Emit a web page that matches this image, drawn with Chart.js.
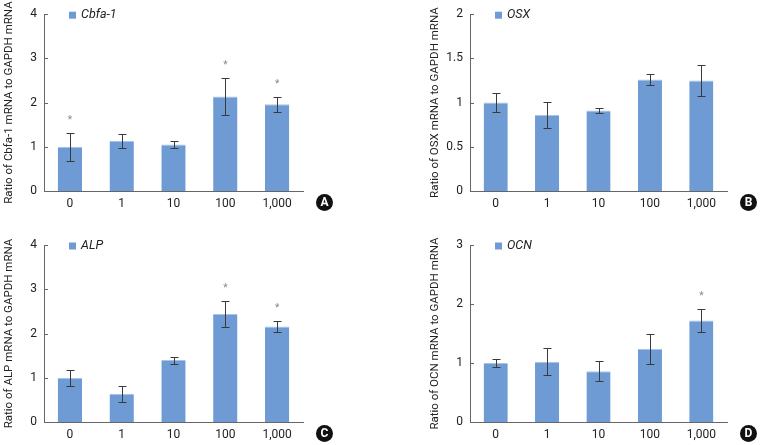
<!DOCTYPE html>
<html lang="en">
<head>
<meta charset="UTF-8">
<title>mRNA ratio panels</title>
<script src="https://cdn.jsdelivr.net/npm/chart.js"></script>
<style>
  body { margin: 0; background: #fff; }
  .panel { position: absolute; }
</style>
</head>
<body>
<div class="panel" style="left:0;top:0;width:380px;height:222px"><canvas id="chartA"></canvas></div>
<div class="panel" style="left:380px;top:0;width:380px;height:222px"><canvas id="chartB"></canvas></div>
<div class="panel" style="left:0;top:222px;width:380px;height:223px"><canvas id="chartC"></canvas></div>
<div class="panel" style="left:380px;top:222px;width:380px;height:223px"><canvas id="chartD"></canvas></div>
<script>
  // dose groups on the x axis
  const doses = ['0', '1', '10', '100', '1,000'];

  // mean ratio, error (half height of the bar) and significance marks per gene
  const cbfaMean = [1.0, 1.13, 1.05, 2.14, 1.96];
  const cbfaErr = [0.31, 0.15, 0.08, 0.42, 0.17];
  const cbfaSig = [true, false, false, true, true];

  const osxMean = [1.0, 0.86, 0.91, 1.26, 1.25];
  const osxErr = [0.105, 0.145, 0.03, 0.065, 0.17];
  const osxSig = [false, false, false, false, false];

  const alpMean = [1.0, 0.64, 1.4, 2.44, 2.16];
  const alpErr = [0.18, 0.18, 0.08, 0.3, 0.13];
  const alpSig = [false, false, false, true, true];

  const ocnMean = [1.0, 1.02, 0.86, 1.24, 1.72];
  const ocnErr = [0.07, 0.23, 0.17, 0.26, 0.19];
  const ocnSig = [false, false, false, false, true];

  const FONT = "Roboto, 'Liberation Sans', sans-serif";
  const BAR = '#6f9bd5';
  const AXIS = '#666';

  // inward tick marks, error bars, asterisks, legend box and the panel letter
  const extras = {
    id: 'extras',
    afterDatasetsDraw(chart, args, opts) {
      const ctx = chart.ctx;
      const y = chart.scales.y;
      const a = chart.chartArea;
      const meta = chart.getDatasetMeta(0);
      const ds = chart.data.datasets[0];
      ctx.save();

      ctx.strokeStyle = AXIS;
      ctx.lineWidth = 1;
      ctx.beginPath();
      y.ticks.forEach(t => {
        const py = Math.round(y.getPixelForValue(t.value)) + 0.5;
        ctx.moveTo(a.left, py); ctx.lineTo(a.left + 4, py);
      });
      ctx.stroke();

      ctx.strokeStyle = '#3a3a3a';
      meta.data.forEach((bar, i) => {
        const v = ds.data[i], e = opts.err[i];
        const x = Math.round(bar.x) + 0.5;
        const top = Math.round(y.getPixelForValue(v + e)) + 0.5;
        const bot = Math.round(y.getPixelForValue(v - e)) + 0.5;
        ctx.beginPath();
        ctx.moveTo(x, top); ctx.lineTo(x, bot);
        ctx.moveTo(x - 4, top); ctx.lineTo(x + 4, top);
        ctx.moveTo(x - 4, bot); ctx.lineTo(x + 4, bot);
        ctx.stroke();
        if (opts.sig[i]) {
          ctx.fillStyle = '#888';
          ctx.font = '10px ' + FONT;
          ctx.textAlign = 'center';
          ctx.textBaseline = 'middle';
          ctx.fillText('*', bar.x, top - 13);
        }
      });

      // legend
      ctx.fillStyle = BAR;
      ctx.fillRect(a.left + 25, a.top - 2.5, 7, 7);
      ctx.fillStyle = '#222';
      ctx.font = 'italic 12.5px ' + FONT;
      ctx.textAlign = 'left';
      ctx.textBaseline = 'middle';
      ctx.fillText(ds.label, a.left + 37, a.top + 1);

      // panel letter
      const cx = a.right + 21.5, cy = a.bottom + 11.5;
      ctx.beginPath();
      ctx.arc(cx, cy, 8.5, 0, Math.PI * 2);
      ctx.fillStyle = '#111';
      ctx.fill();
      ctx.fillStyle = '#fff';
      ctx.font = 'bold 12px ' + FONT;
      ctx.textAlign = 'center';
      ctx.fillText(opts.letter, cx, cy + 0.5);
      ctx.restore();
    }
  };

  function makePanel(id, cfg) {
    new Chart(document.getElementById(id), {
      type: 'bar',
      data: {
        labels: doses,
        datasets: [{
          label: cfg.label,
          data: cfg.mean,
          backgroundColor: BAR,
          borderColor: '#a8c3ea',
          borderWidth: { top: 1, left: 0, right: 0, bottom: 0 },
          borderSkipped: 'bottom',
          barPercentage: 0.47,
          categoryPercentage: 1
        }]
      },
      options: {
        responsive: true,
        maintainAspectRatio: false,
        animation: false,
        layout: { padding: cfg.pad },
        plugins: {
          legend: { display: false },
          tooltip: { enabled: false },
          extras: { err: cfg.err, sig: cfg.sig, letter: cfg.letter }
        },
        scales: {
          x: {
            grid: { display: false, drawTicks: false },
            border: { display: true, color: AXIS, width: 1 },
            ticks: { color: '#222', font: { family: FONT, size: 12 }, padding: 6 },
            afterFit: s => { s.height = cfg.xh; }
          },
          y: {
            min: 0,
            max: cfg.max,
            ticks: {
              stepSize: cfg.step, color: '#222', font: { family: FONT, size: 12 }, padding: 7,
              callback: v => String(v)
            },
            grid: { display: false, drawTicks: false },
            border: { display: true, color: AXIS, width: 1 },
            title: {
              display: true,
              text: cfg.title,
              color: '#222',
              font: { family: FONT, size: 11.5 },
              padding: { top: 2, bottom: 0 }
            },
            afterFit: s => { s.width = 44; }
          }
        }
      },
      plugins: [extras]
    });
  }

  makePanel('chartA', {
    label: 'Cbfa-1', mean: cbfaMean, err: cbfaErr, sig: cbfaSig, letter: 'A',
    max: 4, step: 1, title: 'Ratio of Cbfa-1 mRNA to GAPDH mRNA',
    pad: { left: 0, top: 13, right: 77, bottom: 0 }, xh: 31
  });
  makePanel('chartB', {
    label: 'OSX', mean: osxMean, err: osxErr, sig: osxSig, letter: 'B',
    max: 2, step: 0.5, title: 'Ratio of OSX mRNA to GAPDH mRNA',
    pad: { left: 46, top: 13, right: 33, bottom: 0 }, xh: 31
  });
  makePanel('chartC', {
    label: 'ALP', mean: alpMean, err: alpErr, sig: alpSig, letter: 'C',
    max: 4, step: 1, title: 'Ratio of ALP mRNA to GAPDH mRNA',
    pad: { left: 0, top: 23, right: 77, bottom: 0 }, xh: 23
  });
  makePanel('chartD', {
    label: 'OCN', mean: ocnMean, err: ocnErr, sig: ocnSig, letter: 'D',
    max: 3, step: 1, title: 'Ratio of OCN mRNA to GAPDH mRNA',
    pad: { left: 46, top: 23, right: 33, bottom: 0 }, xh: 23
  });
</script>
</body>
</html>
